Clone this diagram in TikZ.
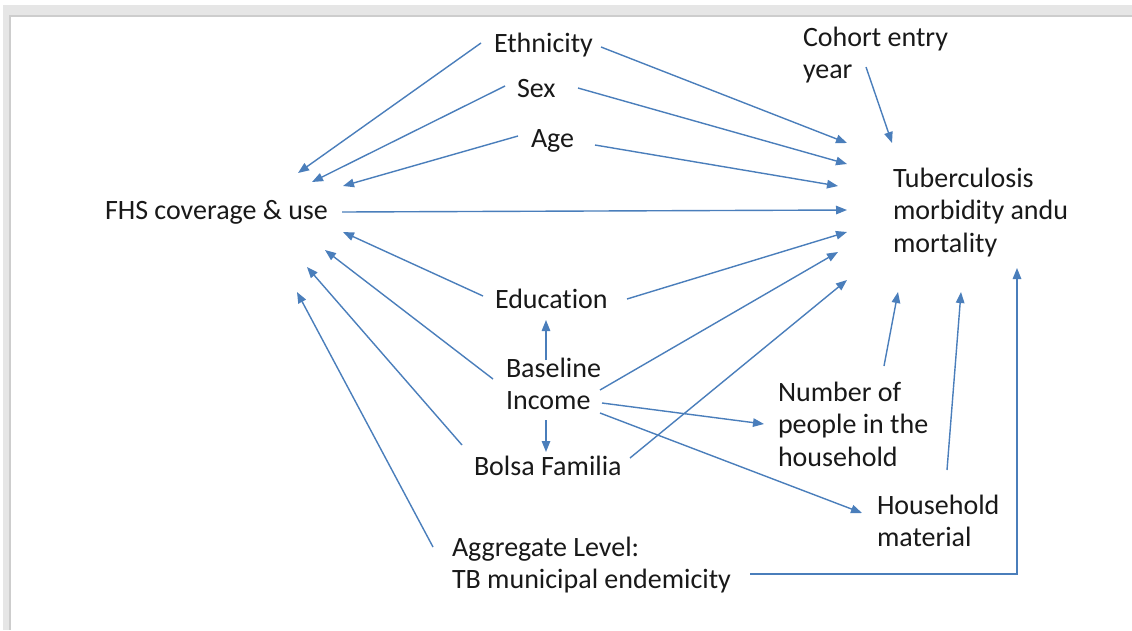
\documentclass[tikz,border=0pt]{standalone}
\usepackage{fontspec}
\setmainfont{Carlito}[Ligatures=NoCommon]
\usetikzlibrary{arrows.meta}
\definecolor{arrblue}{RGB}{74,126,187}
\definecolor{bandgray}{RGB}{230,230,230}
\definecolor{linegray}{RGB}{205,205,205}
\tikzset{
  lbl/.style={inner sep=0pt, outer sep=0pt, anchor=base west, align=left,
    font=\fontsize{28}{32.5}\selectfont, text=black!90},
  arr/.style={draw=arrblue, line width=1.4pt, -{Triangle[length=11pt,width=8.5pt]}},
}
\begin{document}
\begin{tikzpicture}[x=1pt,y=-1pt]
\useasboundingbox (0,0) rectangle (1132,630);
\fill[white] (0,0) rectangle (1132,630);
% window frame
\fill[bandgray] (3,5) rectangle (1132,16.5);
\fill[bandgray] (3,5) rectangle (10.5,630);
\fill[linegray] (8.5,15) rectangle (1132,16.5);
\fill[linegray] (8.5,15) rectangle (10.5,630);
\fill[white] (10.5,16.5) rectangle (1132,630);

% nodes (placed at the baseline of their last line)
\node[lbl] (eth) at (494,52) {Ethnicity};
\node[lbl] (sex) at (517,97) {Sex};
\node[lbl] (age) at (531,147) {Age};
\node[lbl] (coh) at (803,78.5) {Cohort entry\\year};
\node[lbl] (fhs) at (105,219) {FHS coverage \& use};
\node[lbl] (tb) at (893,252) {Tuberculosis\\morbidity andu\\mortality};
\node[lbl] (edu) at (495,308) {Education};
\node[lbl] (inc) at (506,409.5) {Baseline\\Income};
\node[lbl] (bf) at (474,475) {Bolsa Familia};
\node[lbl] (num) at (778,466) {Number of\\people in the\\household};
\node[lbl] (hh) at (877,546.5) {Household\\material};
\node[lbl] (agg) at (452,588.5) {Aggregate Level:\\TB municipal endemicity};

% arrows into FHS
\draw[arr] ([shift={(-13,-9)}]eth.base west) -- ([shift={(193,-46)}]fhs.base west);
\draw[arr] ([shift={(-12,-11)}]sex.base west) -- ([shift={(207,-37)}]fhs.base west);
\draw[arr] ([shift={(-13,-11)}]age.base west) -- ([shift={(238,-33)}]fhs.base west);
\draw[arr] ([shift={(-12,-12)}]edu.base west) -- ([shift={(238,13)}]fhs.base west);
\draw[arr] ([shift={(-13,-30.5)}]inc.base west) -- ([shift={(220,31)}]fhs.base west);
\draw[arr] ([shift={(-12,-30)}]bf.base west) -- ([shift={(202,48)}]fhs.base west);
\draw[arr] ([shift={(-19,-41.5)}]agg.base west) -- ([shift={(192,73)}]fhs.base west);

% arrows into TB
\draw[arr] ([shift={(237,-7)}]fhs.base west) -- ([shift={(-46,-42)}]tb.base west);
\draw[arr] ([shift={(107,-5)}]eth.base west) -- ([shift={(-46,-109)}]tb.base west);
\draw[arr] ([shift={(61,-9)}]sex.base west) -- ([shift={(-46,-88)}]tb.base west);
\draw[arr] ([shift={(64,-2)}]age.base west) -- ([shift={(-55,-66)}]tb.base west);
\draw[arr] ([shift={(63,-11.5)}]coh.base west) -- ([shift={(-1,-109)}]tb.base west);
\draw[arr] ([shift={(132,-9)}]edu.base west) -- ([shift={(-46,-20)}]tb.base west);
\draw[arr] ([shift={(94,-19.5)}]inc.base west) -- ([shift={(-55,0)}]tb.base west);
\draw[arr] ([shift={(156,-17)}]bf.base west) -- ([shift={(-46,28)}]tb.base west);
\draw[arr] ([shift={(106,-100)}]num.base west) -- ([shift={(5,40)}]tb.base west);
\draw[arr] ([shift={(70,-76.5)}]hh.base west) -- ([shift={(68,40)}]tb.base west);
\draw[arr] ([shift={(298,-14.5)}]agg.base west) -| ([shift={(124,16)}]tb.base west);

% arrows from income
\draw[arr] ([shift={(40,-49.5)}]inc.base west) -- ([shift={(51,12)}]edu.base west);
\draw[arr] ([shift={(40,10.5)}]inc.base west) -- ([shift={(72,-23)}]bf.base west);
\draw[arr] ([shift={(96,-6.5)}]inc.base west) -- ([shift={(-14,-42)}]num.base west);
\draw[arr] ([shift={(94,3.5)}]inc.base west) -- ([shift={(-15,-33.5)}]hh.base west);
\end{tikzpicture}
\end{document}
